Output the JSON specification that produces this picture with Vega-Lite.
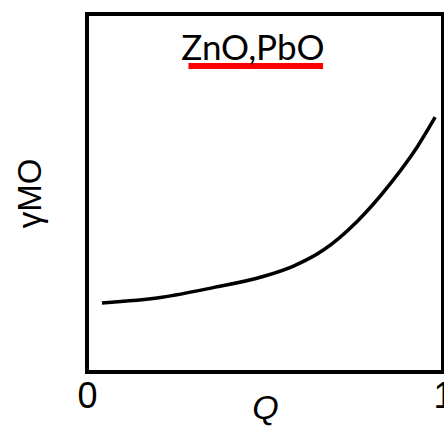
{
  "$schema": "https://vega.github.io/schema/vega-lite/v6.json",
  "width": 356,
  "height": 358,
  "autosize": "none",
  "padding": {"left": 87, "top": 14, "right": 1, "bottom": 58},
  "background": "white",
  "config": {
    "view": {"stroke": "black", "strokeWidth": 4},
    "axis": {"grid": false, "domain": false, "ticks": false}
  },
  "layer": [
    {
      "data": {"values": [
        {"Q": 0.042, "g": 0.193},
        {"Q": 0.211, "g": 0.209},
        {"Q": 0.351, "g": 0.235},
        {"Q": 0.492, "g": 0.266},
        {"Q": 0.580, "g": 0.296},
        {"Q": 0.663, "g": 0.340},
        {"Q": 0.758, "g": 0.420},
        {"Q": 0.851, "g": 0.525},
        {"Q": 0.927, "g": 0.628},
        {"Q": 0.978, "g": 0.712}
      ]},
      "mark": {"type": "line", "color": "black", "strokeWidth": 3.5, "interpolate": "monotone", "strokeCap": "butt"},
      "encoding": {
        "x": {"field": "Q", "type": "quantitative", "scale": {"domain": [0, 1], "nice": false, "zero": false},
          "axis": {"values": [0, 1], "format": "d", "labelFont": "Liberation Sans", "labelFontSize": 36, "labelColor": "black", "labelPadding": 7, "labelFlush": false,
            "title": "Q", "titleFont": "Liberation Sans", "titleFontStyle": "italic", "titleFontWeight": "normal", "titleFontSize": 34, "titleColor": "black", "titlePadding": -23}},
        "y": {"field": "g", "type": "quantitative", "scale": {"domain": [0, 1], "nice": false, "zero": false},
          "axis": {"labels": false, "title": "γMO", "titleFont": "Liberation Sans", "titleFontWeight": "normal", "titleFontSize": 33, "titleColor": "black", "titlePadding": 40}}
      }
    },
    {
      "data": {"values": [{"x1": 0.285, "x2": 0.663, "y": 0.855}]},
      "mark": {"type": "rule", "color": "#ff0000", "strokeWidth": 6},
      "encoding": {
        "x": {"field": "x1", "type": "quantitative"},
        "x2": {"field": "x2"},
        "y": {"field": "y", "type": "quantitative"}
      }
    },
    {
      "data": {"values": [{"x": 0.466, "y": 0.872, "t": "ZnO,PbO"}]},
      "mark": {"type": "text", "font": "Lato", "fontSize": 35, "color": "black", "baseline": "alphabetic", "align": "center"},
      "encoding": {
        "x": {"field": "x", "type": "quantitative"},
        "y": {"field": "y", "type": "quantitative"},
        "text": {"field": "t"}
      }
    }
  ]
}
